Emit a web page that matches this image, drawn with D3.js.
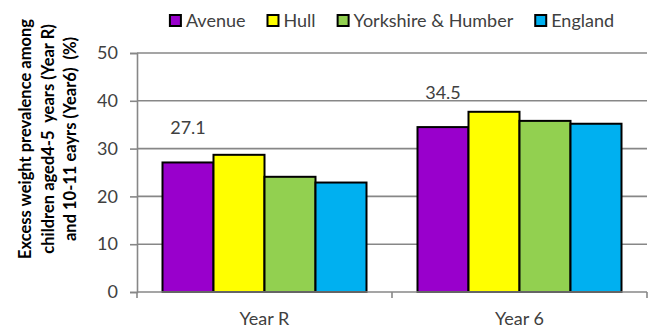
<!DOCTYPE html>
<html>
<head>
<meta charset="utf-8">
<script src="https://cdn.jsdelivr.net/npm/d3@7"></script>
<style>
  html, body { margin: 0; padding: 0; background: #fff; }
  svg text { font-family: Lato, "Open Sans", sans-serif; white-space: pre; }
</style>
</head>
<body>
<svg id="chart" width="665" height="332"></svg>
<script>
// Excess weight prevalence by school year
const categories = ["Year R", "Year 6"];
const seriesNames = ["Avenue", "Hull", "Yorkshire & Humber", "England"];
const avenue = [27.1, 34.5];
const hull = [28.7, 37.7];
const yorkshire = [24.1, 35.8];
const england = [22.9, 35.2];
const yTicks = [0, 10, 20, 30, 40, 50];
const labelledSeries = "Avenue";
const titleLines = [
  "Excess weight prevalence among",
  "children aged4-5  years (Year R)",
  "and 10-11 eayrs (Year6)  (%)"
];

const colors = { "Avenue": "#9900CC", "Hull": "#FFFF00", "Yorkshire & Humber": "#92D050", "England": "#00B0F0" };
const seriesValues = { "Avenue": avenue, "Hull": hull, "Yorkshire & Humber": yorkshire, "England": england };

const svg = d3.select("#chart");
const m = { left: 137, right: 647, top: 53, bottom: 292 };
const gridColor = "#878787";
const textColor = "#404040";

const x0 = d3.scaleBand().domain(categories).range([m.left, m.right]).paddingInner(0).paddingOuter(0);
const x1 = d3.scaleBand().domain(seriesNames).range([0, x0.bandwidth()]).paddingOuter(0.5).paddingInner(0);
const y = d3.scaleLinear().domain([0, 50]).range([m.bottom, m.top]);

// horizontal gridlines
svg.append("g").selectAll("line").data(yTicks.filter(d => d > 0)).join("line")
  .attr("x1", m.left).attr("x2", m.right)
  .attr("y1", d => y(d)).attr("y2", d => y(d))
  .attr("stroke", gridColor).attr("stroke-width", 1.6);

// bars
const rows = categories.map((c, i) => ({ cat: c, vals: seriesNames.map(s => ({ s, v: seriesValues[s][i] })) }));
const groups = svg.append("g").selectAll("g").data(rows).join("g")
  .attr("transform", d => `translate(${x0(d.cat)},0)`);
groups.selectAll("rect").data(d => d.vals).join("rect")
  .attr("x", d => x1(d.s)).attr("width", x1.bandwidth())
  .attr("y", d => y(d.v)).attr("height", d => y(0) - y(d.v))
  .attr("fill", d => colors[d.s]).attr("stroke", "#000").attr("stroke-width", 2);

// value labels for the local area series
groups.selectAll("text.val").data(d => d.vals.filter(v => v.s === labelledSeries)).join("text")
  .attr("class", "val")
  .attr("x", d => x1(d.s) + x1.bandwidth() / 2)
  .attr("y", d => y(d.v) - 28)
  .attr("text-anchor", "middle").attr("font-size", 18).attr("fill", textColor)
  .text(d => d.v.toFixed(1));

// y axis
const yAxis = svg.append("g").attr("transform", `translate(${m.left},0)`)
  .call(d3.axisLeft(y).tickValues(yTicks).tickSize(7).tickPadding(12).tickFormat(d3.format("d")));
yAxis.select(".domain").attr("stroke", gridColor).attr("stroke-width", 1.6);
yAxis.selectAll(".tick line").attr("stroke", gridColor).attr("stroke-width", 1.6);
yAxis.selectAll(".tick text").attr("font-size", 18).attr("fill", textColor).attr("font-family", "Lato, sans-serif");

// x axis
const xAxis = svg.append("g").attr("transform", `translate(0,${m.bottom})`);
xAxis.append("line").attr("x1", m.left).attr("x2", m.right).attr("y1", 0).attr("y2", 0)
  .attr("stroke", gridColor).attr("stroke-width", 1.6);
const boundaries = [m.left, ...categories.map(c => x0(c) + x0.bandwidth())];
xAxis.selectAll("line.tk").data(boundaries).join("line").attr("class", "tk")
  .attr("x1", d => d).attr("x2", d => d).attr("y1", 0).attr("y2", 6)
  .attr("stroke", gridColor).attr("stroke-width", 1.6);
xAxis.selectAll("text").data(categories).join("text")
  .attr("x", d => x0(d) + x0.bandwidth() / 2).attr("y", 33)
  .attr("text-anchor", "middle").attr("font-size", 18).attr("fill", textColor)
  .text(d => d);

// y axis title
const title = svg.append("text")
  .attr("transform", "translate(0,139) rotate(-90)")
  .attr("text-anchor", "middle").attr("font-weight", "bold").attr("font-size", 16.5).attr("fill", "#000");
title.selectAll("tspan").data(titleLines).join("tspan")
  .attr("x", 0).attr("y", (d, i) => 31 + i * 22.5)
  .text(d => d);

// legend
const legend = svg.append("g");
let lx = 0;
seriesNames.forEach(s => {
  const g = legend.append("g").attr("transform", `translate(${lx},0)`);
  g.append("rect").attr("x", 0).attr("y", 15).attr("width", 11).attr("height", 11)
    .attr("fill", colors[s]).attr("stroke", "#000").attr("stroke-width", 2);
  const t = g.append("text").attr("x", 16).attr("y", 27).attr("font-size", 18).attr("fill", textColor).text(s);
  const w = t.node().getComputedTextLength();
  lx += 16 + w + 22;
});
const legendWidth = lx - 22;
legend.attr("transform", `translate(${(m.left + m.right) / 2 - legendWidth / 2},0)`);
</script>
</body>
</html>
